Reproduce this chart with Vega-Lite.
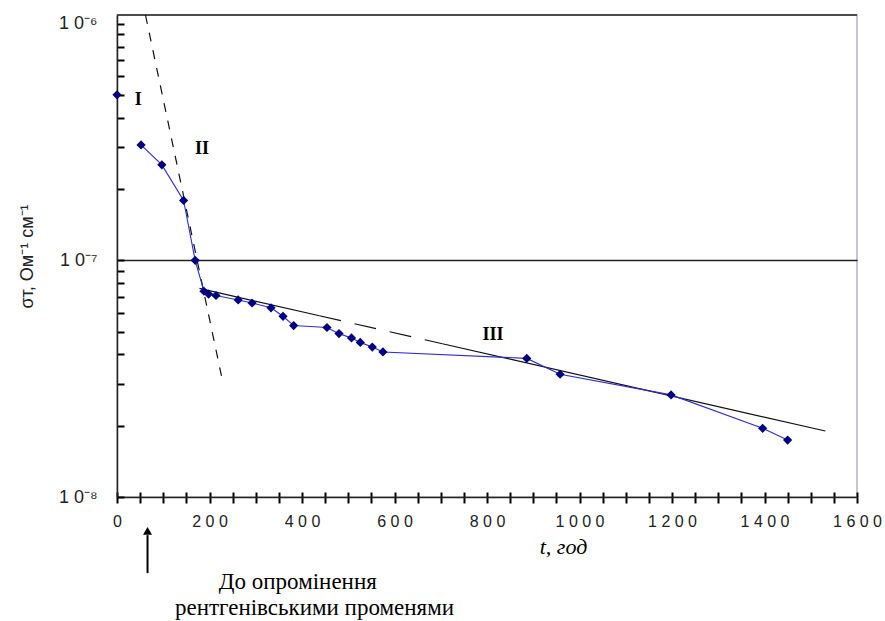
{
  "$schema": "https://vega.github.io/schema/vega-lite/v6.json",
  "width": 740,
  "height": 482,
  "autosize": {"type": "none"},
  "padding": {"left": 117, "top": 15, "right": 28, "bottom": 124},
  "background": "white",
  "config": {"view": {"stroke": "#b8b2bf", "strokeWidth": 1.5}},
  "data": {"values": [
    {"kind": "grid", "t": 0, "t2": 1600, "v": 1.087e-6},
    {"kind": "fit2", "seg": "a", "t": 61.6, "v": 1.087e-6},
    {"kind": "fit2", "seg": "a", "t": 225.9, "v": 3.245e-8},
    {"kind": "fit3s", "seg": "a", "t": 178.3, "v": 7.61e-8},
    {"kind": "fit3s", "seg": "a", "t": 437.7, "v": 5.83e-8},
    {"kind": "fit3d", "seg": "b", "t": 437.7, "v": 5.83e-8},
    {"kind": "fit3d", "seg": "b", "t": 703.6, "v": 4.44e-8},
    {"kind": "fit3s", "seg": "c", "t": 703.6, "v": 4.44e-8},
    {"kind": "fit3s", "seg": "c", "t": 1531.6, "v": 1.9e-8},
    {"kind": "single", "t": 0, "v": 5e-7},
    {"kind": "series", "t": 52, "v": 3.07e-7},
    {"kind": "series", "t": 97, "v": 2.53e-7},
    {"kind": "series", "t": 144, "v": 1.79e-7},
    {"kind": "series", "t": 169, "v": 1.0e-7},
    {"kind": "series", "t": 188, "v": 7.4e-8},
    {"kind": "series", "t": 198, "v": 7.2e-8},
    {"kind": "series", "t": 214, "v": 7.1e-8},
    {"kind": "series", "t": 262, "v": 6.8e-8},
    {"kind": "series", "t": 292, "v": 6.6e-8},
    {"kind": "series", "t": 333, "v": 6.3e-8},
    {"kind": "series", "t": 359, "v": 5.8e-8},
    {"kind": "series", "t": 382, "v": 5.3e-8},
    {"kind": "series", "t": 454, "v": 5.2e-8},
    {"kind": "series", "t": 480, "v": 4.9e-8},
    {"kind": "series", "t": 507, "v": 4.7e-8},
    {"kind": "series", "t": 526, "v": 4.5e-8},
    {"kind": "series", "t": 552, "v": 4.3e-8},
    {"kind": "series", "t": 575, "v": 4.1e-8},
    {"kind": "series", "t": 886, "v": 3.85e-8},
    {"kind": "series", "t": 958, "v": 3.3e-8},
    {"kind": "series", "t": 1198, "v": 2.7e-8},
    {"kind": "series", "t": 1396, "v": 1.95e-8},
    {"kind": "series", "t": 1450, "v": 1.74e-8},
    {"kind": "roman", "t": 46, "v": 4.75e-7, "text": "I"},
    {"kind": "roman", "t": 184, "v": 2.95e-7, "text": "II"},
    {"kind": "roman", "t": 813, "v": 4.84e-8, "text": "III"},
    {"kind": "note", "t": 391, "v": 4.37e-9, "text": "До опромінення"},
    {"kind": "note", "t": 427, "v": 3.4e-9, "text": "рентгенівськими променями"},
    {"kind": "arrow", "t": 66, "v": 6.9e-9, "v2": 4.77e-9},
    {"kind": "head", "t": 66, "v": 7.2e-9}
  ]},
  "encoding": {
    "x": {
      "field": "t", "type": "quantitative",
      "scale": {"domain": [0, 1600], "nice": false, "zero": false},
      "axis": {
        "title": "t, год",
        "titleFont": "Liberation Serif", "titleFontSize": 22, "titleFontWeight": "normal",
        "titleFontStyle": "italic", "titleColor": "#000",
        "titleX": 446, "titleY": 56, "titleBaseline": "alphabetic", "titleAnchor": "middle", "titleAlign": "center",
        "values": [0,50,100,150,200,250,300,350,400,450,500,550,600,650,700,750,800,850,900,950,1000,1050,1100,1150,1200,1250,1300,1350,1400,1450,1500,1550,1600],
        "format": "d",
        "labelExpr": "datum.value % 200 == 0 ? join(split(datum.label, ''), ' ') : ''",
        "labelFont": "Liberation Sans", "labelFontSize": 16, "labelColor": "#222",
        "labelPadding": 10, "labelFlush": false, "labelOverlap": false, "labelBound": false,
        "ticks": true, "tickSize": 6, "tickWidth": 2, "tickColor": "#000",
        "grid": true, "gridColor": "#000", "gridWidth": 2, "gridOpacity": 1,
        "gridDash": [5, 2000], "gridDashOffset": 1528,
        "domainColor": "#222", "domainWidth": 1.5
      }
    },
    "y": {
      "field": "v", "type": "quantitative",
      "scale": {"type": "log", "domain": [1e-8, 1.087e-6], "nice": false},
      "axis": {
        "title": "σт, Ом⁻¹ см⁻¹",
        "titleFont": "Liberation Sans", "titleFontSize": 18, "titleFontWeight": "normal", "titleColor": "#222",
        "titlePadding": 22,
        "values": [1e-8,2e-8,3e-8,4e-8,5e-8,6e-8,7e-8,8e-8,9e-8,1e-7,2e-7,3e-7,4e-7,5e-7,6e-7,7e-7,8e-7,9e-7,1e-6],
        "labelExpr": "datum.value == 1e-6 ? '1 0⁻⁶' : datum.value == 1e-7 ? '1 0⁻⁷' : datum.value == 1e-8 ? '1 0⁻⁸' : ''",
        "labelFont": "Liberation Sans", "labelFontSize": 18, "labelColor": "#222",
        "labelPadding": 27, "labelOverlap": false, "labelBound": false, "labelFlush": false,
        "ticks": true, "tickSize": -7, "tickWidth": 2, "tickColor": "#000",
        "grid": true, "gridColor": "#222", "gridWidth": 1.3,
        "gridOpacity": {"condition": {"test": "datum.value > 9.99e-8 && datum.value < 1.001e-7", "value": 1}, "value": 0},
        "domainColor": "#222", "domainWidth": 1.5
      }
    }
  },
  "layer": [
    {
      "transform": [{"filter": "datum.kind == 'grid'"}],
      "mark": {"type": "rule", "color": "#222", "strokeWidth": 1.5},
      "encoding": {"x2": {"field": "t2"}}
    },
    {
      "transform": [{"filter": "datum.kind == 'fit2'"}],
      "mark": {"type": "line", "color": "#111", "strokeWidth": 1.2, "strokeDash": [9, 9]},
      "encoding": {"detail": {"field": "seg"}}
    },
    {
      "transform": [{"filter": "datum.kind == 'fit3s'"}],
      "mark": {"type": "line", "color": "#111", "strokeWidth": 1.2},
      "encoding": {"detail": {"field": "seg"}}
    },
    {
      "transform": [{"filter": "datum.kind == 'fit3d'"}],
      "mark": {"type": "line", "color": "#111", "strokeWidth": 1.2, "strokeDash": [22, 14]},
      "encoding": {"detail": {"field": "seg"}}
    },
    {
      "transform": [{"filter": "datum.kind == 'series'"}],
      "mark": {"type": "line", "color": "#2b2bd9", "strokeWidth": 1.1},
      "encoding": {"order": {"field": "t"}}
    },
    {
      "transform": [{"filter": "datum.kind == 'series' || datum.kind == 'single'"}],
      "mark": {"type": "point", "shape": "diamond", "filled": true, "color": "#000080", "size": 85, "opacity": 1}
    },
    {
      "transform": [{"filter": "datum.kind == 'roman'"}],
      "mark": {"type": "text", "font": "Liberation Serif", "fontWeight": "bold", "fontSize": 18, "color": "#000", "align": "center", "baseline": "middle"},
      "encoding": {"text": {"field": "text"}}
    },
    {
      "transform": [{"filter": "datum.kind == 'note'"}],
      "mark": {"type": "text", "font": "Liberation Serif", "fontSize": 23, "color": "#000", "align": "center", "baseline": "middle", "clip": false},
      "encoding": {"text": {"field": "text"}}
    },
    {
      "transform": [{"filter": "datum.kind == 'arrow'"}],
      "mark": {"type": "rule", "color": "#000", "strokeWidth": 2, "clip": false},
      "encoding": {"y2": {"field": "v2"}}
    },
    {
      "transform": [{"filter": "datum.kind == 'head'"}],
      "mark": {"type": "point", "shape": "triangle-up", "filled": true, "color": "#000", "size": 80, "opacity": 1, "clip": false}
    }
  ]
}
